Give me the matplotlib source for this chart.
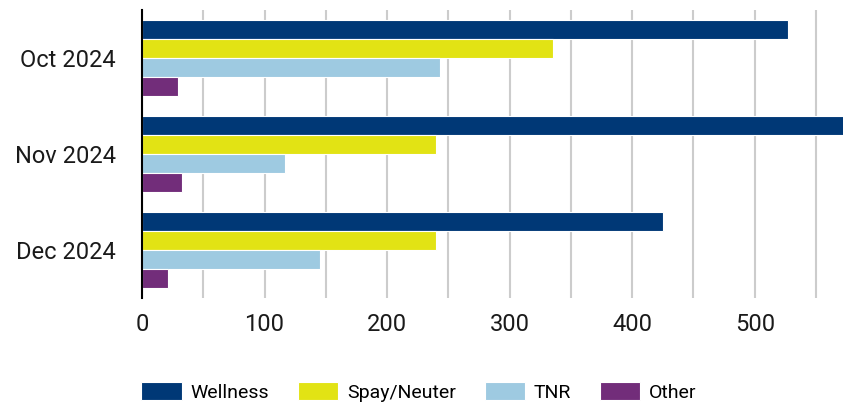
import matplotlib
matplotlib.use('Agg')

import numpy as np
import matplotlib.pyplot as plt
from matplotlib.ticker import MultipleLocator

plt.rcParams['font.family'] = ['Roboto', 'DejaVu Sans']

# data
months = ["Oct 2024", "Nov 2024", "Dec 2024"]
series = ["Wellness", "Spay/Neuter", "TNR", "Other"]
wellness = [527, 585, 425]
spay_neuter = [335, 240, 240]
tnr = [243, 117, 145]
other = [29, 33, 21]
colors = ["#003876", "#e2e314", "#9ecae1", "#722d7a"]

values = [wellness, spay_neuter, tnr, other]

fig, ax = plt.subplots(figsize=(8.68, 4.05), dpi=100)
fig.subplots_adjust(left=0.1636, right=0.9712, top=0.9753, bottom=0.2642)

y = np.arange(len(months))
h = 0.2
for i, (name, vals, c) in enumerate(zip(series, values, colors)):
    ax.barh(y - 0.3 + i * h, vals, height=h, color=c, label=name,
            edgecolor='white', linewidth=0.8, zorder=3)

ax.set_ylim(2.5, -0.5)
ax.set_xlim(0, 572)
ax.set_yticks(y)
ax.set_yticklabels(months)
ax.xaxis.set_major_locator(MultipleLocator(100))
ax.xaxis.set_minor_locator(MultipleLocator(50))
ax.grid(axis='x', which='both', color='#cccccc', linewidth=1.5, zorder=0)

for s in ['top', 'right', 'bottom']:
    ax.spines[s].set_visible(False)
ax.spines['left'].set_color('black')
ax.spines['left'].set_linewidth(1.5)
ax.spines['left'].set_zorder(4)

ax.tick_params(axis='both', which='both', length=0, labelsize=17, colors='#1a1a1a')
ax.tick_params(axis='x', pad=11)
ax.tick_params(axis='y', pad=19)

fig.legend(loc='lower left', bbox_to_anchor=(0.163, 0.008), ncol=4, frameon=False,
           fontsize=14, handlelength=2.06, handleheight=1.08, handletextpad=0.46,
           columnspacing=1.48, borderpad=0, borderaxespad=0)

fig.savefig('out.png', dpi=100)
